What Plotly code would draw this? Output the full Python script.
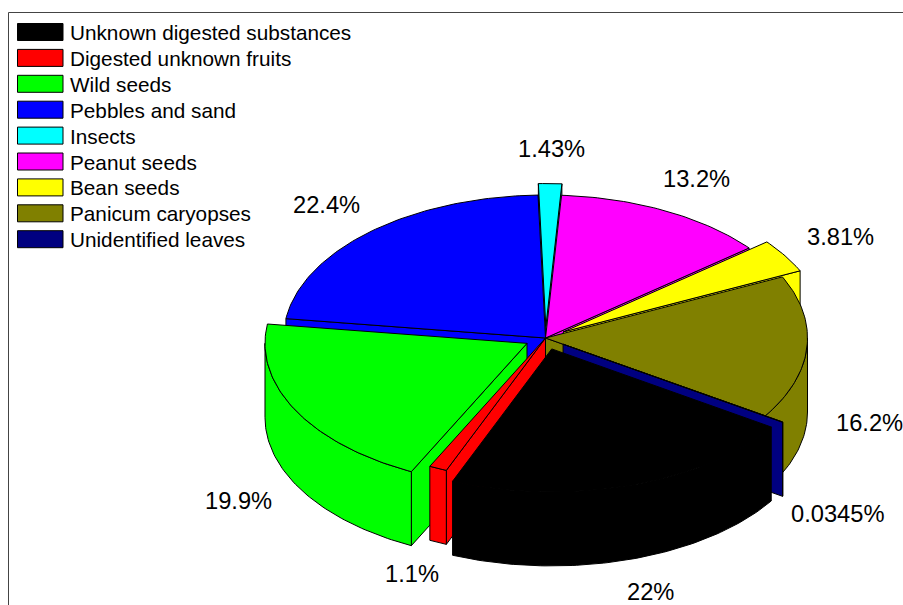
import math
import plotly.graph_objects as go

categories = ["Unknown digested substances", "Digested unknown fruits", "Wild seeds",
              "Pebbles and sand", "Insects", "Peanut seeds", "Bean seeds",
              "Panicum caryopses", "Unidentified leaves"]
values = [22, 1.1, 19.9, 22.4, 1.43, 13.2, 3.81, 16.2, 0.0345]
labels = ["22%", "1.1%", "19.9%", "22.4%", "1.43%", "13.2%", "3.81%", "16.2%", "0.0345%"]

colors = ["#000000", "#ff0000", "#00ff00", "#0000ff", "#00ffff",
          "#ff00ff", "#ffff00", "#808000", "#000080"]
explode = [0.08, 0, 0.08, 0, 0.08, 0, 0.08, 0, 0.08]
label_x = [650, 412, 238, 326, 551, 696, 840, 869, 838]
label_y = [592, 574, 501, 205, 149, 179, 237, 423, 514]
draw_order = [4, 3, 5, 6, 7, 2, 1, 8, 0]

CX, CY, RX, RY, DEPTH = 545.5, 338.0, 262.0, 143.0, 74.0
START = 123.1
FONT = "Liberation Sans, Arial, sans-serif"

total = sum(values)
spans = []
a = START
for v in values:
    b = a + v / total * 360
    spans.append((a, b))
    a = b


def project(angle, radius, off, drop):
    t = math.radians(angle)
    return (CX + off[0] + radius * RX * math.sin(t),
            CY + off[1] - radius * RY * math.cos(t) + drop)


def arc(a0, a1, off, drop):
    n = max(2, int(abs(a1 - a0)) + 2)
    return [project(a0 + (a1 - a0) * i / (n - 1), 1, off, drop) for i in range(n)]


fig = go.Figure()


def poly(pts, color):
    xs = [p[0] for p in pts] + [pts[0][0]]
    ys = [p[1] for p in pts] + [pts[0][1]]
    fig.add_trace(go.Scatter(x=xs, y=ys, mode="lines", fill="toself", fillcolor=color,
                             line=dict(color="#000000", width=1), hoverinfo="skip",
                             showlegend=False))


def radial_wall(edge, off, color):
    poly([project(0, 0, off, 0), project(edge, 1, off, 0),
          project(edge, 1, off, DEPTH), project(0, 0, off, DEPTH)], color)


for i in draw_order:
    a0, a1 = spans[i]
    mid = math.radians((a0 + a1) / 2)
    off = (explode[i] * RX * math.sin(mid), -explode[i] * RY * math.cos(mid))
    c = colors[i]
    # only the cut faces turned towards the viewer are drawn
    if math.sin(math.radians(a0)) < 0:
        radial_wall(a0, off, c)
    if math.sin(math.radians(a1)) > 0:
        radial_wall(a1, off, c)
    # the rim faces the viewer between 90 and 270 degrees, on any turn of the circle
    for turn in (0, 360):
        lo, hi = max(a0, 90 + turn), min(a1, 270 + turn)
        if hi > lo:
            poly(arc(lo, hi, off, 0) + arc(hi, lo, off, DEPTH), c)
    poly([project(0, 0, off, 0)] + arc(a0, a1, off, 0), c)

annotations = []
for t, x, y in zip(labels, label_x, label_y):
    annotations.append(dict(x=x, y=y, text=t, showarrow=False, xanchor="center", yanchor="middle",
                            font=dict(family=FONT, size=23.7, color="#000000")))

shapes = [
    dict(type="line", x0=8.5, x1=903, y0=12.5, y1=12.5, line=dict(color="#444444", width=1)),
    dict(type="line", x0=8.5, x1=8.5, y0=12.5, y1=605, line=dict(color="#444444", width=1)),
]
for k, (name, c) in enumerate(zip(categories, colors)):
    yc = 32 + k * 25.9
    shapes.append(dict(type="rect", x0=17.5, x1=63, y0=yc - 8.5, y1=yc + 8.5,
                       fillcolor=c, line=dict(color="#000000", width=1)))
    annotations.append(dict(x=68, y=yc + 0.5, text=name, showarrow=False, xanchor="left",
                            yanchor="middle",
                            font=dict(family=FONT, size=20.74, color="#000000")))

fig.update_layout(
    width=903, height=605, margin=dict(l=0, r=0, t=0, b=0),
    paper_bgcolor="#ffffff", plot_bgcolor="#ffffff", showlegend=False,
    xaxis=dict(range=[0, 903], visible=False, fixedrange=True),
    yaxis=dict(range=[605, 0], visible=False, fixedrange=True),
    shapes=shapes, annotations=annotations,
)
fig.write_html("out.html", config={"displayModeBar": False},
               post_script="document.body.style.margin='0';document.body.style.overflow='hidden';")
